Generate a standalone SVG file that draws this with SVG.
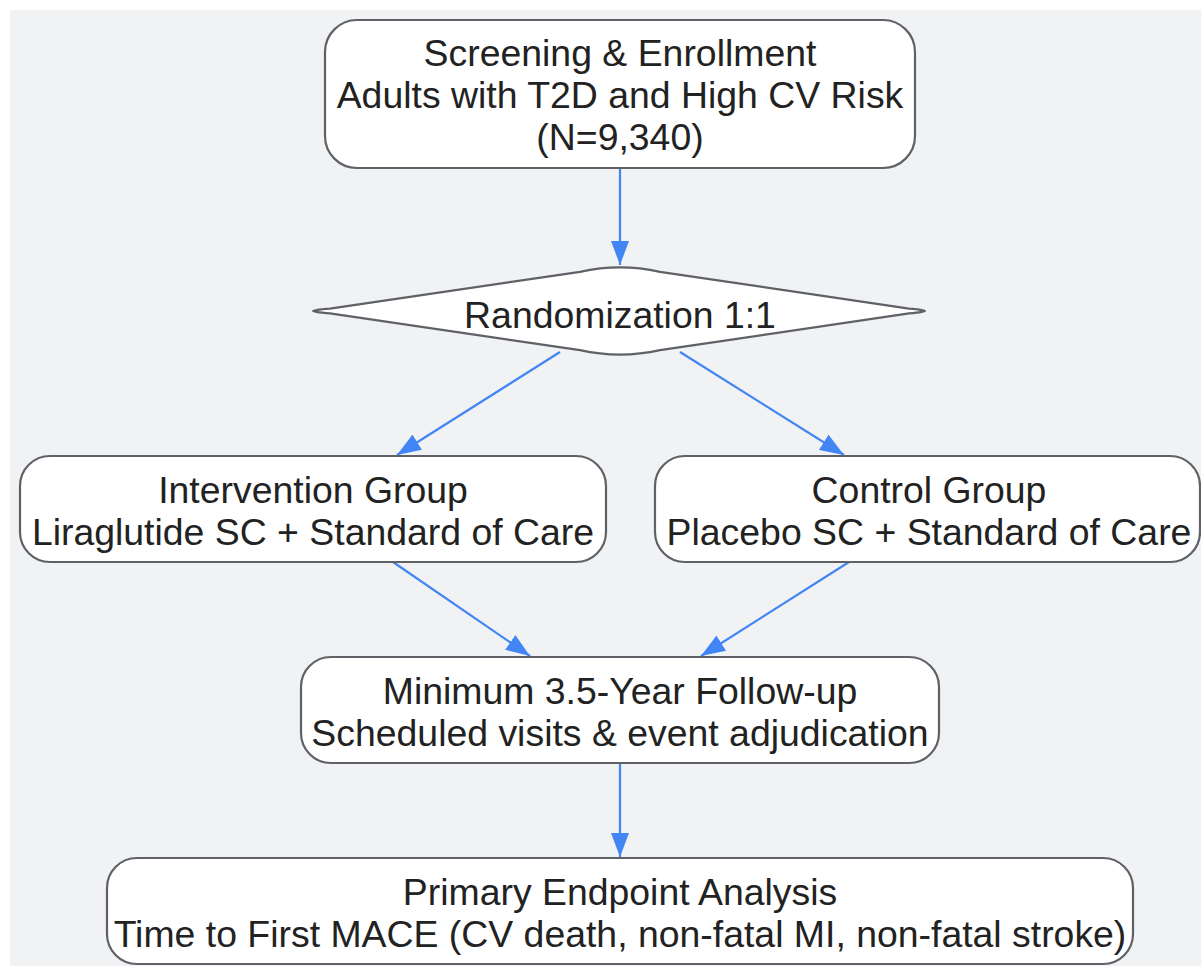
<svg xmlns="http://www.w3.org/2000/svg" width="1201" height="966" viewBox="0 0 1201 966">
<defs>
<style>
.node{fill:#ffffff;stroke:#5f6166;stroke-width:2.2}
.t{font-family:"Liberation Sans",Arial,sans-serif;font-size:37.4px;fill:#222222;text-anchor:middle}
.edge{stroke:#4285f4;stroke-width:2.2;fill:none;marker-end:url(#ah)}
</style>
<marker id="ah" viewBox="0 0 24 18" refX="24" refY="9" markerWidth="24" markerHeight="18" markerUnits="userSpaceOnUse" orient="auto">
<path d="M0,0 L24,9 L0,18 z" fill="#4285f4"/>
</marker>
</defs>
<rect x="0" y="0" width="1201" height="966" fill="#ffffff"/>
<rect x="10" y="10" width="1191" height="956" fill="#f1f2f4"/>
<g id="connectors">
<line class="edge" x1="620" y1="169" x2="620" y2="265"/>
<line class="edge" x1="560" y1="352" x2="397" y2="455"/>
<line class="edge" x1="680" y1="352" x2="844" y2="455"/>
<line class="edge" x1="393" y1="562" x2="530" y2="656"/>
<line class="edge" x1="849" y1="562" x2="701" y2="656"/>
<line class="edge" x1="620" y1="764" x2="620" y2="857"/>
</g>
<g id="screening">
<rect class="node" x="325" y="20" width="590" height="148" rx="32"/>
<text class="t" x="620" y="66">Screening &amp; Enrollment</text>
<text class="t" x="620" y="108">Adults with T2D and High CV Risk</text>
<text class="t" x="620" y="150">(N=9,340)</text>
</g>
<g id="randomization">
<path class="node" d="M580,271.9 Q620,263 660,271.9 L909,308.6 Q941,311 909,313.4 L660,350.1 Q620,359 580,350.1 L330,313.4 Q296,311 330,308.6 Z"/>
<text class="t" x="620" y="328">Randomization 1:1</text>
</g>
<g id="intervention">
<rect class="node" x="20" y="456" width="586" height="106" rx="30"/>
<text class="t" x="313" y="503">Intervention Group</text>
<text class="t" x="313" y="545">Liraglutide SC + Standard of Care</text>
</g>
<g id="control">
<rect class="node" x="655" y="456" width="545" height="106" rx="30"/>
<text class="t" x="929" y="503">Control Group</text>
<text class="t" x="929" y="545">Placebo SC + Standard of Care</text>
</g>
<g id="followup">
<rect class="node" x="301" y="657" width="638" height="106" rx="30"/>
<text class="t" x="620" y="704">Minimum 3.5-Year Follow-up</text>
<text class="t" x="620" y="746">Scheduled visits &amp; event adjudication</text>
</g>
<g id="primary">
<rect class="node" x="107" y="858" width="1026" height="106" rx="30"/>
<text class="t" x="620" y="905">Primary Endpoint Analysis</text>
<text class="t" x="620" y="947">Time to First MACE (CV death, non-fatal MI, non-fatal stroke)</text>
</g>
</svg>
